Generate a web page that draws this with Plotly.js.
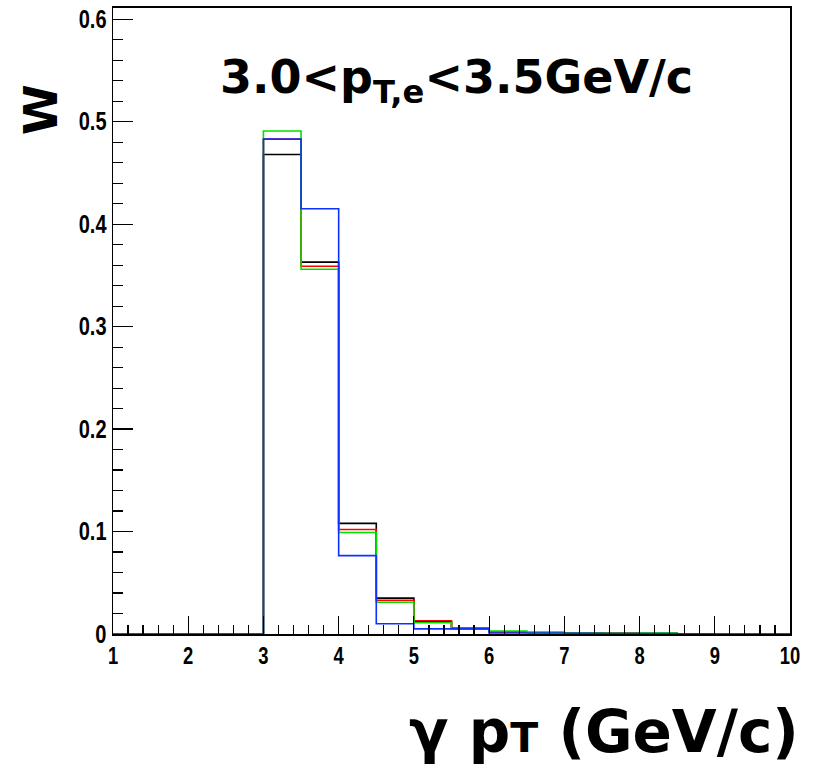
<!DOCTYPE html>
<html>
<head>
<meta charset="utf-8">
<script src="https://cdn.plot.ly/plotly-3.0.1.min.js"></script>
<style>html,body{margin:0;padding:0;background:#fff;overflow:hidden;}#chart{width:813px;height:769px;}</style>
</head>
<body>
<div id="chart"></div>
<script>
// Histogram bins (left edges), bin width 0.5 GeV/c
var binLow = [1.0,1.5,2.0,2.5,3.0,3.5,4.0,4.5,5.0,5.5,6.0,6.5,7.0,7.5,8.0,8.5,9.0,9.5];
var binWidth = 0.5;
// Weights W per bin for the four histograms
var wBlack = [0,0,0,0,0.468,0.363,0.108,0.035,0.012,0.0055,0.002,0.0015,0.001,0.0007,0.0005,0.0002,0,0];
var wRed   = [0,0,0,0,0.483,0.359,0.102,0.033,0.013,0.0055,0.002,0.0015,0.001,0.0007,0.0005,0.0002,0,0];
var wGreen = [0,0,0,0,0.491,0.356,0.099,0.031,0.011,0.005,0.003,0.0015,0.001,0.0008,0.001,0.0003,0,0];
var wBlue  = [0,0,0,0,0.483,0.415,0.0765,0.010,0.005,0.005,0.001,0.001,0.0008,0.0005,0.0005,0.0003,0,0];
var xTicks = [1,2,3,4,5,6,7,8,9,10];
var xTickText = ["1","2","3","4","5","6","7","8","9","10"];
var yTicks = [0,0.1,0.2,0.3,0.4,0.5,0.6];
var yTickText = ["0","0.1","0.2","0.3","0.4","0.5","0.6"];

function stepTrace(vals, color) {
  var xs = binLow.concat([binLow[binLow.length-1] + binWidth]);
  var ys = vals.concat([vals[vals.length-1]]);
  return {x: xs, y: ys, type: 'scatter', mode: 'lines',
          line: {shape: 'hv', color: color, width: 1.6},
          hoverinfo: 'skip', showlegend: false};
}

var data = [
  stepTrace(wBlack, '#000000'),
  stepTrace(wRed, '#ff0000'),
  stepTrace(wGreen, '#00e000'),
  stepTrace(wBlue, '#1030ff')
];

var xTickFont = {family: 'Liberation Sans, Arial, sans-serif', size: 23, color: '#000', weight: 'bold'};
var yTickFont = {family: 'Liberation Sans, Arial, sans-serif', size: 25, color: '#000', weight: 'bold'};
var L = 113, R = 790, T = 8, B = 634;
function px(x){ return (x - L) / (R - L); }
function py(y){ return (B - y) / (B - T); }

var layout = {
  width: 813, height: 769,
  margin: {l: L, r: 813 - R, t: T, b: 769 - B},
  paper_bgcolor: '#ffffff', plot_bgcolor: '#ffffff',
  xaxis: {
    range: [1, 10], tickvals: xTicks, ticktext: xTickText,
    ticks: 'inside', ticklen: 18, tickwidth: 1.2, tickcolor: '#000',
    minor: {dtick: 0.2, ticks: 'inside', ticklen: 9, tickwidth: 1.2, tickcolor: '#000', showgrid: false},
    showline: true, linecolor: '#000', linewidth: 2, mirror: true,
    showgrid: false, zeroline: false, tickfont: xTickFont, fixedrange: true
  },
  yaxis: {
    range: [0, 0.611], tickvals: yTicks, ticktext: yTickText,
    ticks: 'inside', ticklen: 20, tickwidth: 1.2, tickcolor: '#000',
    minor: {dtick: 0.02, ticks: 'inside', ticklen: 10, tickwidth: 1.2, tickcolor: '#000', showgrid: false},
    showline: true, linecolor: '#000', linewidth: 1.5, mirror: true,
    showgrid: false, zeroline: false, tickfont: yTickFont, fixedrange: true
  },
  annotations: [
    {text: '3.0&lt;p<sub>T,e</sub>&lt;3.5GeV/c', xref: 'paper', yref: 'paper',
     x: px(456), y: py(80), xanchor: 'center', yanchor: 'middle', showarrow: false,
     font: {family: 'DejaVu Sans, Verdana, sans-serif', size: 46, color: '#000', weight: 'bold'}},
    {text: 'W', xref: 'paper', yref: 'paper', x: px(41), y: py(110),
     xanchor: 'center', yanchor: 'middle', textangle: -90, showarrow: false,
     font: {family: 'DejaVu Sans, Verdana, sans-serif', size: 46, color: '#000', weight: 'bold'}},
    {text: 'γ p<span style="font-size:41px">T</span> (GeV/c)', xref: 'paper', yref: 'paper',
     x: px(801), y: py(768), xanchor: 'right', yanchor: 'bottom', showarrow: false,
     font: {family: 'DejaVu Sans, Verdana, sans-serif', size: 58, color: '#000', weight: 'bold'}}
  ]
};

Plotly.newPlot('chart', data, layout, {staticPlot: true, displayModeBar: false}).then(function(gd){
  // condense tick labels horizontally (narrow bold face as in the reference)
  var texts = gd.querySelectorAll('.xtick text, .ytick text');
  texts.forEach(function(t){
    var x = parseFloat(t.getAttribute('x')) || 0, y = parseFloat(t.getAttribute('y')) || 0;
    var tr = t.getAttribute('transform') || '';
    t.setAttribute('transform', tr + ' translate(' + x + ',' + y + ') scale(0.8,1) translate(' + (-x) + ',' + (-y) + ')');
  });
});
</script>
</body>
</html>
